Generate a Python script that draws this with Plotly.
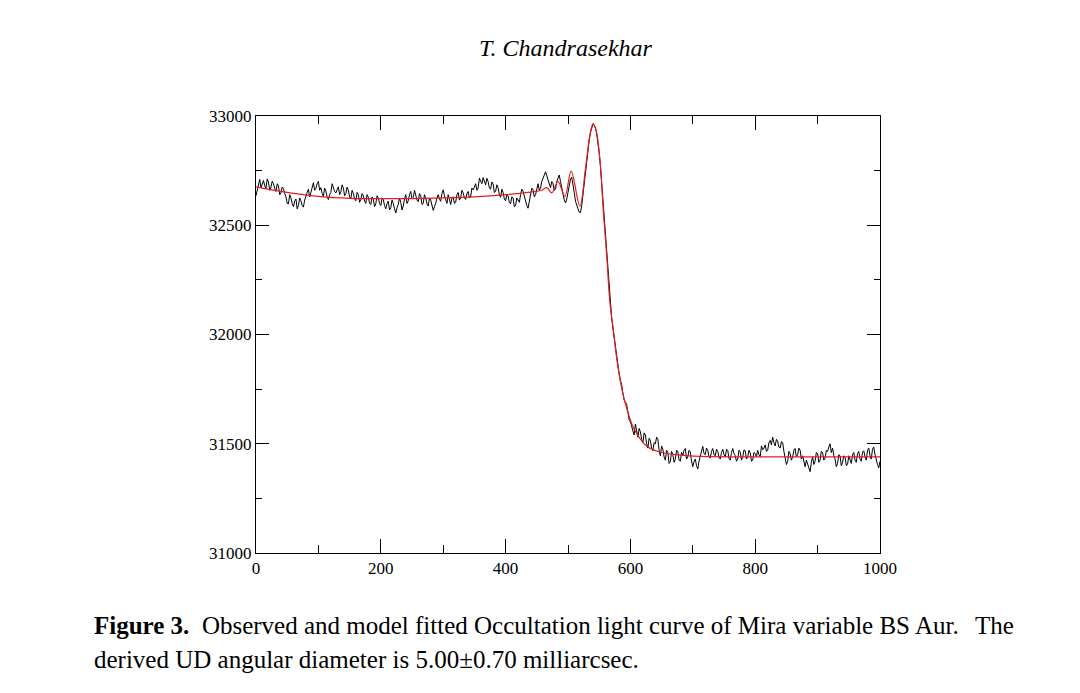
import plotly.graph_objects as go

obs_step = 2
obs_counts = [
    # 0 - 100
    32635, 32660, 32695, 32710, 32672, 32690, 32705, 32680, 32668, 32712,
    32698, 32660, 32675, 32702, 32690, 32668, 32655, 32690, 32680, 32640,
    32648, 32675, 32668, 32645, 32630, 32600, 32598, 32640, 32625, 32600,
    32585, 32610, 32620, 32575, 32590, 32625, 32612, 32590, 32583, 32615,
    32640, 32650, 32665, 32630, 32650, 32678, 32695, 32660, 32668, 32690,
    32700,
    # 102 - 200
    32660, 32672, 32645, 32632, 32670, 32655, 32630, 32618, 32640, 32650,
    32690, 32672, 32655, 32648, 32660, 32676, 32640, 32652, 32685, 32670,
    32635, 32645, 32675, 32660, 32630, 32622, 32660, 32645, 32620, 32612,
    32650, 32640, 32605, 32618, 32645, 32635, 32610, 32600, 32640, 32628,
    32600, 32595, 32630, 32620, 32585, 32598, 32635, 32625, 32600, 32590,
    # 202 - 300
    32625, 32618, 32590, 32575, 32600, 32610, 32570, 32580, 32615, 32600,
    32575, 32556, 32580, 32595, 32625, 32605, 32570, 32588, 32620, 32640,
    32600, 32612, 32640, 32655, 32620, 32628, 32660, 32640, 32615, 32608,
    32645, 32635, 32595, 32600, 32640, 32625, 32598, 32588, 32625, 32615,
    32590, 32568, 32585, 32600, 32625, 32640, 32620, 32610, 32645, 32662,
    # 302 - 400
    32635, 32618, 32600, 32640, 32620, 32595, 32625, 32630, 32600, 32605,
    32640, 32650, 32615, 32625, 32660, 32648, 32625, 32618, 32645, 32655,
    32625, 32630, 32670, 32662, 32675, 32690, 32660, 32670, 32715, 32705,
    32690, 32718, 32700, 32685, 32715, 32700, 32670, 32665, 32698, 32688,
    32650, 32655, 32685, 32672, 32640, 32628, 32665, 32650, 32620, 32612,
    # 402 - 520
    32640, 32635, 32605, 32598, 32630, 32625, 32585, 32590, 32625, 32615,
    32605, 32640, 32665, 32655, 32630, 32620, 32590, 32578, 32615, 32645,
    32670, 32662, 32630, 32640, 32675, 32690, 32660, 32670, 32700, 32712,
    32730, 32745, 32725, 32705, 32680, 32672, 32700, 32690, 32660, 32665,
    32700, 32720, 32730, 32700, 32670, 32648, 32615, 32602, 32620, 32650,
    32690, 32712, 32720, 32690, 32650, 32610, 32585, 32575, 32560, 32558,
    # 522 - 600
    32590, 32645, 32690, 32740, 32790, 32840, 32890, 32925, 32950, 32962,
    32960, 32945, 32918, 32880, 32830, 32770, 32690, 32600, 32520, 32440,
    32355, 32270, 32195, 32125, 32075, 32030, 31985, 31940, 31895, 31860,
    31820, 31790, 31770, 31730, 31700, 31690, 31680, 31645, 31610, 31600,
    # 602 - 700
    31575, 31560, 31540, 31590, 31565, 31530, 31570, 31555, 31520, 31505,
    31550, 31540, 31500, 31480, 31525, 31515, 31480, 31468, 31505, 31500,
    31530, 31520, 31470, 31445, 31490, 31475, 31440, 31425, 31470, 31460,
    31410, 31418, 31465, 31450, 31415, 31430, 31470, 31465, 31425, 31420,
    31460, 31448, 31470, 31478, 31430, 31440, 31470, 31462, 31420, 31395,
    # 702 - 800
    31420, 31430, 31400, 31385, 31420, 31440, 31470, 31488, 31455, 31450,
    31480, 31470, 31440, 31435, 31465, 31478, 31450, 31445, 31475, 31465,
    31438, 31430, 31460, 31475, 31450, 31440, 31475, 31470, 31432, 31425,
    31460, 31478, 31455, 31445, 31420, 31430, 31470, 31462, 31425, 31438,
    31472, 31468, 31430, 31440, 31470, 31458, 31420, 31425, 31460, 31455,
    # 802 - 900
    31440, 31470, 31450, 31440, 31490, 31472, 31480, 31495, 31465, 31470,
    31505, 31515, 31495, 31530, 31505, 31490, 31520, 31512, 31485, 31480,
    31510, 31505, 31465, 31440, 31405, 31418, 31465, 31455, 31425, 31438,
    31470, 31478, 31440, 31450, 31480, 31470, 31430, 31445, 31420, 31395,
    31425, 31410, 31390, 31372, 31415, 31440, 31405, 31420, 31460, 31455,
    # 902 - 1000
    31415, 31425, 31465, 31460, 31425, 31435, 31470, 31465, 31485, 31500,
    31460, 31480, 31445, 31430, 31395, 31410, 31450, 31445, 31400, 31415,
    31445, 31438, 31400, 31405, 31445, 31430, 31410, 31450, 31460, 31425,
    31415, 31455, 31465, 31430, 31420, 31462, 31468, 31440, 31425, 31470,
    31480, 31445, 31430, 31475, 31485, 31450, 31420, 31405, 31390, 31420,
]
obs_x = [i * obs_step for i in range(len(obs_counts))]

# model fit (red curve)
model_x = [0, 40, 100, 150, 200, 250, 300, 350, 400, 440,
           458, 466, 474, 484, 495, 505, 519, 528, 535, 540,
           545, 551, 557, 562, 567, 573, 578, 586, 594, 605,
           621, 631, 650, 680, 711, 800, 900, 1000]
model_y = [32676, 32655, 32632, 32623, 32622, 32622, 32625, 32630, 32640, 32652,
           32660, 32672, 32648, 32700, 32632, 32748, 32588, 32760, 32910, 32965,
           32935, 32806, 32547, 32364, 32150, 32013, 31892, 31755, 31663, 31572,
           31503, 31480, 31460, 31448, 31442, 31440, 31440, 31440]

FONT = "Liberation Serif"

fig = go.Figure()

fig.add_trace(go.Scatter(
    x=obs_x, y=obs_counts, mode="lines",
    line=dict(color="black", width=1),
    name="observed", showlegend=False,
))

fig.add_trace(go.Scatter(
    x=model_x, y=model_y, mode="lines",
    line=dict(color="rgb(225,30,30)", width=1.2, shape="spline"),
    name="model", showlegend=False,
))

axis_common = dict(
    showgrid=False, zeroline=False,
    showline=True, linecolor="black", linewidth=1,
    mirror="ticks", ticks="inside", tickcolor="black", tickwidth=1,
    tickformat="d",
    tickfont=dict(family=FONT, size=17, color="black"),
)

fig.update_xaxes(
    range=[0, 1000], tick0=0, dtick=200, ticklen=14,
    minor=dict(dtick=100, ticks="inside", ticklen=8, tickcolor="black"),
    **axis_common,
)
fig.update_yaxes(
    range=[31000, 33000], tick0=31000, dtick=500, ticklen=13,
    minor=dict(dtick=250, ticks="inside", ticklen=6, tickcolor="black"),
    **axis_common,
)

# page text: running head and figure caption
fig.add_annotation(
    text="<i>T. Chandrasekhar</i>", xref="paper", yref="paper",
    x=0.497, y=1.156, showarrow=False, xanchor="center", yanchor="middle",
    font=dict(family=FONT, size=24, color="black"),
)
fig.add_annotation(
    text="<b>Figure 3.</b>\u00a0\u00a0Observed and model fitted Occultation light curve of Mira variable BS Aur.",
    xref="paper", yref="paper", x=-0.263, y=-0.167,
    showarrow=False, xanchor="left", yanchor="middle",
    font=dict(family=FONT, size=25, color="black"),
)
fig.add_annotation(
    text="The", xref="paper", yref="paper", x=1.218, y=-0.167,
    showarrow=False, xanchor="right", yanchor="middle",
    font=dict(family=FONT, size=25, color="black"),
)
fig.add_annotation(
    text="derived UD angular diameter is 5.00\u00b10.70 milliarcsec.",
    xref="paper", yref="paper", x=-0.263, y=-0.2426,
    showarrow=False, xanchor="left", yanchor="middle",
    font=dict(family=FONT, size=25, color="black"),
)

# page body has an 8px default margin, so the plot box is shifted back by 8px
fig.update_layout(
    width=1080, height=693,
    margin=dict(l=248, r=208, t=108, b=148),
    paper_bgcolor="white", plot_bgcolor="white",
    font=dict(family=FONT, color="black"),
)

fig.write_html("out.html")
